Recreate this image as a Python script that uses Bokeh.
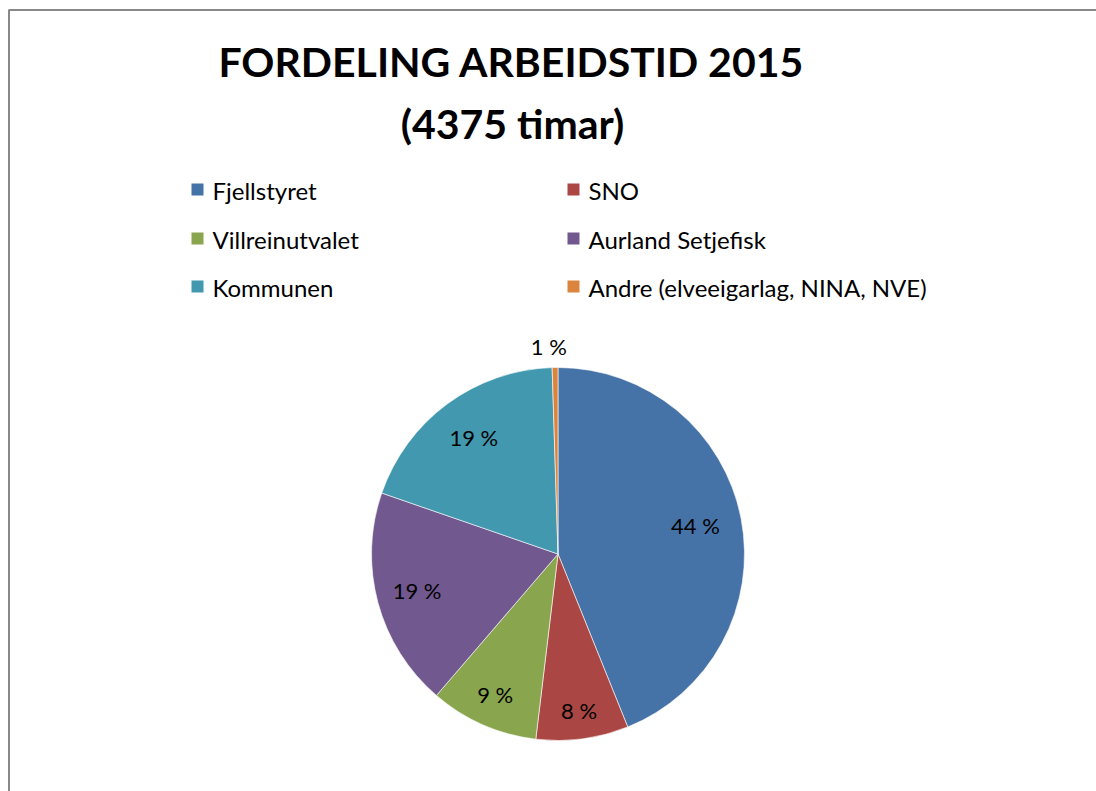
import math
from bokeh.plotting import figure
from bokeh.models import Range1d, ColumnDataSource
from bokeh.core.properties import value
from bokeh.embed import file_html
from bokeh.resources import INLINE

# ---- data ----
categories = ["Fjellstyret", "SNO", "Villreinutvalet", "Aurland Setjefisk",
              "Kommunen", "Andre (elveeigarlag, NINA, NVE)"]
shares = [43.9, 8.0, 9.4, 19.0, 19.2, 0.5]
pct_labels = ["44 %", "8 %", "9 %", "19 %", "19 %", "1 %"]
colors = ["#4572A7", "#AA4643", "#89A54E", "#71588F", "#4198AF", "#DB843D"]
title_lines = ["FORDELING ARBEIDSTID 2015", "(4375 timar)"]

W, H = 1096, 791
FONT = "Lato"

p = figure(width=W, height=H, output_backend="svg", toolbar_location=None,
           x_range=Range1d(0, W), y_range=Range1d(0, H), min_border=0)
p.axis.visible = False
p.grid.visible = False
p.outline_line_color = None
p.background_fill_color = "white"
p.border_fill_color = "white"

def Y(ypix):
    return H - ypix

# outer chart border (extends beyond window on right/bottom)
p.quad(left=[8.5], right=[W + 50], top=[Y(9.5)], bottom=[-50],
       fill_color=None, line_color="#888888", line_width=2)

# title
p.text(x=[511, 512], y=[Y(61), Y(123)], text=title_lines,
       text_font=value(FONT), text_font_style="bold", text_font_size="41px",
       text_align="center", text_baseline="middle", text_color="black")

# legend (2 columns x 3 rows)
lx0, lx1 = 197, 573
ly = [189, 238, 286]
leg_x, leg_y = [], []
for i, _ in enumerate(categories):
    col = i % 2
    row = i // 2
    leg_x.append(lx0 if col == 0 else lx1)
    leg_y.append(Y(ly[row]))
p.rect(x=leg_x, y=leg_y, width=12, height=12, fill_color=colors,
       line_color=None)
p.text(x=[x + 15 for x in leg_x], y=[y - 1 for y in leg_y], text=categories,
       text_font=value(FONT), text_font_size="24px",
       text_align="left", text_baseline="middle", text_color="black")

# pie
cx, cy, R = 557.5, 553.5, 186.5
total = sum(shares)
starts, ends, mids = [], [], []
cum = 0.0
for s in shares:
    a0 = cum / total
    cum += s
    a1 = cum / total
    starts.append(math.pi / 2 - a0 * 2 * math.pi)
    ends.append(math.pi / 2 - a1 * 2 * math.pi)
    mids.append((a0 + a1) / 2)

src = ColumnDataSource(dict(start=starts, end=ends, color=colors))
p.wedge(x=cx, y=Y(cy), radius=R, radius_units="screen",
        start_angle="start", end_angle="end", direction="clock",
        fill_color="color", line_color="white", line_width=0.6, source=src)

# data labels
lab_r = [140, 160, 156, 146, 142, 206]
tx, ty = [], []
for m, r in zip(mids, lab_r):
    ang = m * 2 * math.pi
    tx.append(cx + r * math.sin(ang))
    ty.append(Y(cy - r * math.cos(ang)))
tx[-1] -= 6
ty = [y + 2 for y in ty]
p.text(x=tx, y=ty, text=pct_labels, text_font=value(FONT),
       text_font_size="22px", text_align="center", text_baseline="middle",
       text_color="black")

open("out.html", "w").write(file_html(p, INLINE))
